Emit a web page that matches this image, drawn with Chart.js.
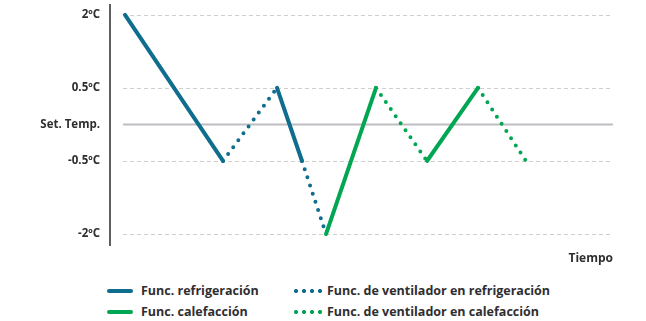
<!DOCTYPE html>
<html>
<head>
<meta charset="utf-8">
<script src="https://cdn.jsdelivr.net/npm/chart.js@4.4.1/dist/chart.umd.min.js"></script>
<style>
  html, body { margin: 0; padding: 0; background: #fff; }
  #wrap { position: relative; width: 646px; height: 321px; }
  #c { position: absolute; left: 0; top: 0; }
  #legend { position: absolute; left: 107px; top: 282px; display: grid;
    grid-template-columns: 185px 300px; row-gap: 4px;
    font-family: "Open Sans", sans-serif; font-weight: 700; font-size: 12.5px; color: #2e2e30; }
  .item { display: flex; align-items: center; height: 17px; white-space: nowrap; }
  .sw { flex: none; width: 26px; height: 4px; margin-right: 8px; border-radius: 2px; }
</style>
</head>
<body>
<div id="wrap">
  <canvas id="c" width="646" height="270"></canvas>
  <div id="legend"></div>
</div>
<script>
// Data
const tiempo = [0, 98, 152, 177, 201, 251, 302, 353, 401];          // time positions of turning points
const nivel  = [6, 2, 4, 2, 0, 4, 2, 4, 2];                          // temperature level index
const tramo  = ['coolSolid','coolDot','coolSolid','coolDot','heatSolid','heatDot','heatSolid','heatDot']; // segment types
const yTickValues = [0, 2, 3, 4, 6];
const yTickLabels = ['-2ºC', '-0.5ºC', 'Set. Temp.', '0.5ºC', '2ºC'];
const seriesNames = {
  coolSolid: 'Func. refrigeración',
  coolDot: 'Func. de ventilador en refrigeración',
  heatSolid: 'Func. calefacción',
  heatDot: 'Func. de ventilador en calefacción'
};
const BLUE = '#0f6d8d', GREEN = '#00a651';
const styles = {
  coolSolid: { color: BLUE, dotted: false },
  coolDot:   { color: BLUE, dotted: true },
  heatSolid: { color: GREEN, dotted: false },
  heatDot:   { color: GREEN, dotted: true }
};

const order = ['coolSolid', 'coolDot', 'heatSolid', 'heatDot'];
const datasets = order.map(key => {
  const pts = [];
  tramo.forEach((t, i) => {
    if (t !== key) return;
    if (pts.length) pts.push({ x: (tiempo[i] + pts[pts.length - 1].x) / 2, y: null });
    pts.push({ x: tiempo[i], y: nivel[i] });
    pts.push({ x: tiempo[i + 1], y: nivel[i + 1] });
  });
  const st = styles[key];
  return {
    key, label: seriesNames[key], data: pts,
    borderColor: st.color, backgroundColor: st.color,
    borderWidth: 4, pointRadius: 0, spanGaps: false, tension: 0,
    borderCapStyle: 'round', borderJoinStyle: 'round',
    borderDash: st.dotted ? [0, 8.6] : []
  };
});

const gridPlugin = {
  id: 'customGrid',
  beforeDatasetsDraw(chart) {
    const { ctx, chartArea, scales } = chart;
    const ys = scales.y;
    ctx.save();
    yTickValues.forEach(v => {
      const y = Math.round(ys.getPixelForValue(v)) + 0.5;
      ctx.beginPath();
      if (v === 3) { ctx.setLineDash([]); ctx.strokeStyle = '#bdbdc2'; ctx.lineWidth = 2; }
      else { ctx.setLineDash([4, 3]); ctx.strokeStyle = '#cfcfcf'; ctx.lineWidth = 1; }
      ctx.moveTo(chartArea.left + 13, y);
      ctx.lineTo(chartArea.right, y);
      ctx.stroke();
    });
    ctx.restore();
  }
};

const chart = new Chart(document.getElementById('c'), {
  type: 'line',
  data: { datasets },
  plugins: [gridPlugin],
  options: {
    responsive: false, animation: false,
    layout: { padding: { top: 5, right: 33, left: 0, bottom: 0 } },
    plugins: { legend: { display: false }, tooltip: { enabled: false } },
    scales: {
      x: {
        type: 'linear', min: -15, max: 488,
        grid: { display: false, drawTicks: false },
        border: { display: false },
        ticks: { display: false },
        title: { display: true, text: 'Tiempo', align: 'end', color: '#2e2e30',
          font: { family: 'Open Sans', weight: '700', size: 12 }, padding: { top: 4, bottom: 4 } },
        afterFit(s) { s.height = 25; s.paddingLeft = 0; s.paddingRight = 0; }
      },
      y: {
        type: 'linear', min: -0.3, max: 6.27,
        afterBuildTicks(s) { s.ticks = yTickValues.map(v => ({ value: v })); },
        ticks: {
          color: '#2e2e30', padding: 10, autoSkip: false,
          font: { family: 'Open Sans', weight: '700', size: 11.5 },
          callback: (v) => yTickLabels[yTickValues.indexOf(v)]
        },
        grid: { display: false, drawTicks: false },
        border: { display: true, color: '#5d5d62', width: 2 },
        afterFit(s) { s.width = 110; s.paddingTop = 0; s.paddingBottom = 0; }
      }
    }
  }
});

// HTML legend built from datasets (2 columns)
const legend = document.getElementById('legend');
const legendOrder = ['coolSolid', 'coolDot', 'heatSolid', 'heatDot'];
legendOrder.forEach(key => {
  const ds = chart.data.datasets.find(d => d.key === key);
  const st = styles[key];
  const item = document.createElement('div');
  item.className = 'item';
  const sw = document.createElement('span');
  sw.className = 'sw';
  if (st.dotted) {
    sw.style.background = `radial-gradient(circle, ${st.color} 1.8px, transparent 2.3px) 0 0 / 8px 4px repeat-x`;
    sw.style.borderRadius = '0';
    sw.style.width = '30px';
    sw.style.marginRight = '5px';
  } else {
    sw.style.background = st.color;
  }
  item.appendChild(sw);
  const tx = document.createElement('span');
  tx.textContent = ds.label;
  item.appendChild(tx);
  legend.appendChild(item);
});
</script>
</body>
</html>
